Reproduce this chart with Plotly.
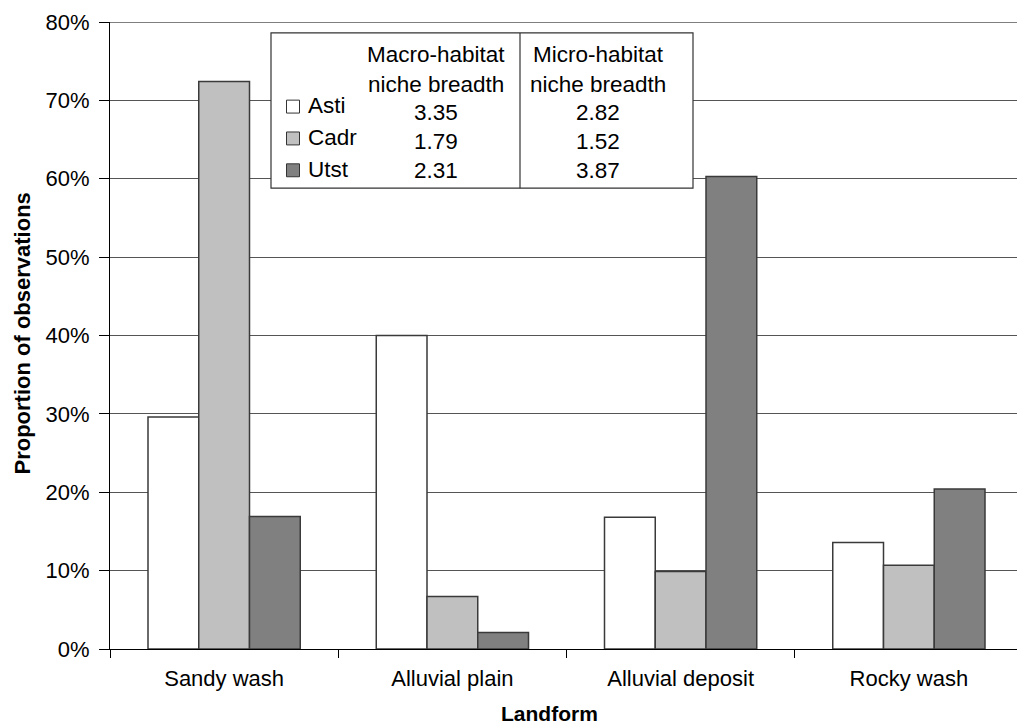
import plotly.graph_objects as go

categories = ["Sandy wash", "Alluvial plain", "Alluvial deposit", "Rocky wash"]
series_names = ["Asti", "Cadr", "Utst"]
asti = [29.6, 40.0, 16.8, 13.6]
cadr = [72.4, 6.7, 9.9, 10.7]
utst = [16.9, 2.1, 60.3, 20.4]
macro_breadth = ["3.35", "1.79", "2.31"]
micro_breadth = ["2.82", "1.52", "3.87"]
y_ticks = [0, 10, 20, 30, 40, 50, 60, 70, 80]

colors = ["#ffffff", "#c0c0c0", "#808080"]
FONT = "Liberation Sans, Arial, sans-serif"

# page offset (body margin) and target plot area in page pixels
OFF = 8
W, H = 1025 - OFF, 727 - OFF
X0, X1, Y0, Y1 = 110, 1023, 19, 649   # plot area left/right/top/bottom on page
L = X0 - OFF
T = Y0 - OFF
R = OFF + W - X1
B = OFF + H - Y1
PW, PH = X1 - X0, Y1 - Y0


def px(x):
    return (x - X0) / PW


def py(y):
    return (Y1 - y) / PH


fig = go.Figure()
for name, vals, col in zip(series_names, [asti, cadr, utst], colors):
    fig.add_trace(go.Bar(
        x=categories, y=vals, name=name,
        marker=dict(color=col, line=dict(color="#3a3a3a", width=1.5)),
        showlegend=False,
    ))

shapes = []
annotations = []

# top gridline at the upper range limit
shapes.append(dict(type="line", xref="paper", yref="y",
                   x0=0, x1=1, y0=y_ticks[-1], y1=y_ticks[-1],
                   line=dict(color="#555", width=1.4), layer="below"))
# inset table
shapes.append(dict(type="rect", xref="paper", yref="paper",
                   x0=px(271), x1=px(693), y0=py(186), y1=py(30),
                   fillcolor="white", line=dict(color="#333", width=1.2), layer="above"))
shapes.append(dict(type="line", xref="paper", yref="paper",
                   x0=px(520), x1=px(520), y0=py(186), y1=py(30),
                   line=dict(color="#333", width=1.2), layer="above"))
# right border of plot area
shapes.append(dict(type="line", xref="paper", yref="paper",
                   x0=1, x1=1, y0=0, y1=1,
                   line=dict(color="#888", width=1.2), layer="below"))

TF = 22.5
for txt, x, y in [("Macro-habitat", 436, 52), ("niche breadth", 436, 82),
                  ("Micro-habitat", 598, 52), ("niche breadth", 598, 82)]:
    annotations.append(dict(text=txt, xref="paper", yref="paper", x=px(x), y=py(y),
                            showarrow=False, xanchor="center", yanchor="middle",
                            font=dict(family=FONT, size=TF, color="black")))

label_y = [103, 135, 167]
value_y = [110, 139, 168]
for i, name in enumerate(series_names):
    cy = label_y[i] + 1
    shapes.append(dict(type="rect", xref="paper", yref="paper",
                       x0=px(286.5), x1=px(299.5), y0=py(cy + 6.5), y1=py(cy - 6.5),
                       fillcolor=colors[i], line=dict(color="#333", width=1), layer="above"))
    annotations.append(dict(text=name, xref="paper", yref="paper", x=px(306), y=py(label_y[i]),
                            showarrow=False, xanchor="left", yanchor="middle",
                            font=dict(family=FONT, size=TF, color="black")))
    annotations.append(dict(text=macro_breadth[i], xref="paper", yref="paper", x=px(436), y=py(value_y[i]),
                            showarrow=False, xanchor="center", yanchor="middle",
                            font=dict(family=FONT, size=TF, color="black")))
    annotations.append(dict(text=micro_breadth[i], xref="paper", yref="paper", x=px(598), y=py(value_y[i]),
                            showarrow=False, xanchor="center", yanchor="middle",
                            font=dict(family=FONT, size=TF, color="black")))

# axis titles
annotations.append(dict(text="<b>Landform</b>", xref="paper", yref="paper", x=px(549), y=py(714),
                        showarrow=False, xanchor="center", yanchor="middle",
                        font=dict(family=FONT, size=21, color="black")))
annotations.append(dict(text="<b>Proportion of observations</b>", xref="paper", yref="paper",
                        x=px(23), y=py(332), textangle=-90,
                        showarrow=False, xanchor="center", yanchor="middle",
                        font=dict(family=FONT, size=22, color="black")))

fig.update_layout(
    width=W, height=H,
    margin=dict(l=L, r=R, t=T, b=B, pad=0),
    paper_bgcolor="white", plot_bgcolor="white",
    barmode="group", bargap=0.333, bargroupgap=0,
    font=dict(family=FONT, size=22, color="black"),
    shapes=shapes, annotations=annotations,
    showlegend=False,
)
fig.update_xaxes(
    type="category", showline=True, linecolor="black", linewidth=1.2,
    ticks="outside", tickson="boundaries", ticklen=8, tickcolor="black", tickwidth=1.2,
    ticklabelstandoff=9,
    showgrid=False, tickfont=dict(family=FONT, size=22, color="black"),
)
fig.update_yaxes(
    range=[0, 80.001], tickvals=y_ticks, ticktext=[f"{v}%" for v in y_ticks],
    showline=True, linecolor="black", linewidth=1.2,
    ticks="outside", ticklen=10, tickcolor="black", tickwidth=1.2,
    ticklabelstandoff=5, ticklabeloverflow="allow",
    showgrid=True, gridcolor="#555", gridwidth=1.4, zeroline=False,
    tickfont=dict(family=FONT, size=22, color="black"),
)

fig.write_html("out.html")
